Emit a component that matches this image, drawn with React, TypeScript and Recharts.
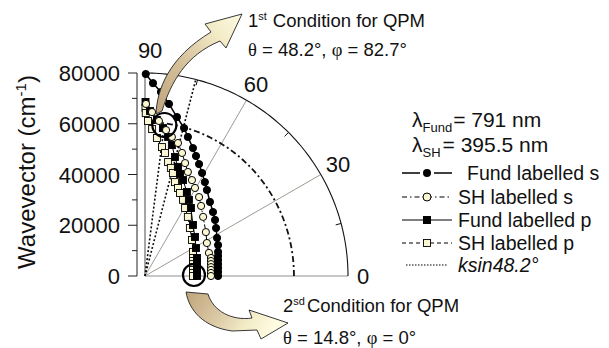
import React from "react";
import { ComposedChart, XAxis, YAxis, Scatter, ReferenceDot } from "recharts";

const FONT = '"Liberation Sans", Arial, sans-serif';
const SERIF = '"Liberation Serif", "Times New Roman", serif';

// wavevector components in cm^-1: [k cos(phi), k sin(phi)]
const FUND_S: [number, number][] = [
  [300, 79600], [3150, 76000], [6300, 72500], [9450, 67800], [12600, 62650], [15400, 58300],
  [16900, 54800], [18900, 50400], [20100, 47300], [21300, 44100], [22500, 40600], [23600, 37000],
  [24400, 33900], [25600, 29200], [26800, 25200], [27600, 22100], [28000, 18900], [28400, 15000],
  [28800, 12200], [28800, 9500], [28800, 7900], [28800, 6300], [28800, 4700], [28800, 3200],
  [28800, 1600], [28800, 0],
];
const SH_S: [number, number][] = [
  [400, 67800], [2760, 64600], [5500, 61100], [8300, 57500], [10600, 54800], [13000, 52400],
  [14600, 48500], [15800, 44500], [16900, 41000], [18500, 37800], [19700, 34700], [21300, 31100],
  [22100, 27600], [22900, 23300], [24000, 17300], [24400, 13000], [25200, 9100], [26000, 7100],
  [26000, 5900], [26000, 4700], [26000, 3500], [26000, 2400], [26000, 1200], [26000, 0],
];
const FUND_P: [number, number][] = [
  [200, 68600], [2000, 65000], [4700, 61500], [7100, 58300], [9100, 54800], [10600, 51600],
  [11800, 46900], [13000, 43000], [13800, 40200], [15000, 37800], [16500, 33100], [17300, 30000],
  [18100, 26800], [18900, 20100], [19700, 15400], [20100, 11000], [20500, 7100], [20500, 5500],
  [20500, 3900], [20500, 2400], [20500, 1200], [20500, 0],
];
const SH_P: [number, number][] = [
  [200, 66200], [300, 64200], [1200, 61100], [2800, 57900], [4700, 54400], [6700, 50800],
  [7900, 48500], [9100, 44900], [10200, 42600], [11000, 40600], [11800, 37000], [13000, 34700],
  [13800, 32700], [15000, 30000], [15800, 26800], [16900, 23300], [17700, 18900], [18500, 14200],
  [18900, 9500], [18900, 7100], [18900, 5900], [18900, 4700], [18900, 3500], [18900, 2400],
  [18900, 1200], [18900, 0],
];

const Y_TICKS = [0, 10000, 20000, 30000, 40000, 50000, 60000, 70000, 80000];
const K_MAX = 80000;
const GRID_ANGLES = [30, 60];
const ARC_TICK_ANGLES = [15, 45, 75];
const ANGLE_LABELS = [
  { deg: 0, r: 86000, text: "0" },
  { deg: 30, r: 87800, text: "30" },
  { deg: 60, r: 87500, text: "60" },
  { deg: 88.7, r: 89100, text: "90" },
];
const ELLIPSE = { a: 58700, b: 60700 };
const DOTTED_RAYS = [
  { deg: 75.5, r: 80000 },
  { deg: 82.7, r: 60000 },
];
const QPM_1 = { deg: 82.7, r: 60000 };
const QPM_2 = { x: 19300, y: 400 };

const AXIS_X = 137;

const rad = (d: number) => (d * Math.PI) / 180;
const pts = (arr: [number, number][]) => arr.map(([x, y]) => ({ x, y }));
const polar = (deg: number, r: number) => ({ x: r * Math.cos(rad(deg)), y: r * Math.sin(rad(deg)) });
const arcPts = (rx: number, ry: number) =>
  Array.from({ length: 91 }, (_, i) => ({ x: rx * Math.cos(rad(i)), y: ry * Math.sin(rad(i)) }));

const none = () => <g />;
const roundMark = (fill: string) => (p: any) => (
  <circle cx={p.cx} cy={p.cy} r={3.6} fill={fill} stroke="#000" strokeWidth={1} />
);
const squareMark = (fill: string) => (p: any) => (
  <rect x={p.cx - 3.5} y={p.cy - 3.5} width={7} height={7} fill={fill} stroke="#000" strokeWidth={0.9} />
);

function YTick(props: any) {
  const { y, payload } = props;
  const major = payload.value % 20000 === 0;
  return (
    <g>
      <line x1={AXIS_X - (major ? 9 : 5)} x2={AXIS_X} y1={y} y2={y} stroke="#222" strokeWidth={1} />
      {major && (
        <text x={AXIS_X - 17} y={y + 8} textAnchor="end" fontSize={22} fontFamily={FONT} fill="#111">
          {payload.value}
        </text>
      )}
    </g>
  );
}

const CREAM = "#fbf7d2";

function Overlay() {
  return (
    <svg width={609} height={348} style={{ position: "absolute", left: 0, top: 0, pointerEvents: "none" }}>
      <defs>
        <linearGradient id="arrowUp" x1="0" y1="1" x2="1" y2="0">
          <stop offset="0" stopColor="#bfa47c" />
          <stop offset="0.45" stopColor="#d8c49f" />
          <stop offset="0.75" stopColor="#f2ebc6" />
          <stop offset="1" stopColor="#fffbe3" />
        </linearGradient>
        <linearGradient id="arrowDown" x1="0" y1="0" x2="1" y2="0.3">
          <stop offset="0" stopColor="#bfa47c" />
          <stop offset="0.4" stopColor="#d9c6a2" />
          <stop offset="0.75" stopColor="#f4edc9" />
          <stop offset="1" stopColor="#fffbe3" />
        </linearGradient>
      </defs>

      {/* y axis title */}
      <g transform="translate(35,172) rotate(-90)">
        <text textAnchor="middle" fontSize={24} fontFamily={FONT} fill="#111">
          Wavevector (cm<tspan dy={-9} fontSize={15}>-1</tspan>
          <tspan dy={9}>)</tspan>
        </text>
      </g>

      {/* QPM arrows */}
      <path
        d="M 156 114 C 157 90, 168 58, 211 32 L 205 24 L 242 14 L 226 48 L 220 41 C 186 55, 171 82, 162 111 Z"
        fill="url(#arrowUp)"
        stroke="#222"
        strokeWidth={0.9}
      />
      <path
        d="M 186 292 C 189 310, 203 327, 232 331 L 257 330 L 261 339 L 288 323 L 249 310 L 252 318 C 232 321, 213 311, 208 294 Z"
        fill="url(#arrowDown)"
        stroke="#222"
        strokeWidth={0.9}
      />

      <g fontFamily={FONT} fill="#111">
        <text x={248} y={27} fontSize={18.5}>
          1<tspan dy={-7} fontSize={11}>st</tspan>
          <tspan dy={7} dx={6}>Condition for QPM</tspan>
        </text>
        <text x={248} y={56} fontSize={18.5}>
          <tspan fontFamily={SERIF}>θ</tspan> = 48.2°, <tspan fontFamily={SERIF}>φ</tspan> = 82.7°
        </text>
        <text x={283} y={312} fontSize={18.5}>
          2<tspan dy={-7} fontSize={11}>sd</tspan>
          <tspan dy={7} dx={2}>Condition for QPM</tspan>
        </text>
        <text x={283} y={344} fontSize={18.5}>
          <tspan fontFamily={SERIF}>θ</tspan> = 14.8°, <tspan fontFamily={SERIF}>φ</tspan> = 0°
        </text>

        {/* wavelengths */}
        <text x={412} y={127} fontSize={21}>
          λ<tspan dy={5} fontSize={13}>Fund</tspan>
          <tspan dx={1} dy={-5}>= 791 nm</tspan>
        </text>
        <text x={412} y={152} fontSize={21}>
          λ<tspan dy={5} fontSize={13}>SH</tspan>
          <tspan dx={2} dy={-5}>= 395.5 nm</tspan>
        </text>
      </g>

      {/* key */}
      <g fontFamily={FONT} fill="#111" fontSize={19.5}>
        <line x1={402} x2={420} y1={173} y2={173} stroke="#000" strokeWidth={1.5} />
        <line x1={434} x2={452} y1={173} y2={173} stroke="#000" strokeWidth={1.5} />
        <circle cx={427} cy={173} r={4} fill="#000" />
        <text x={467} y={180}>Fund labelled s</text>

        <line x1={402} x2={452} y1={197} y2={197} stroke="#000" strokeWidth={1.2} strokeDasharray="5 3 1.5 3" />
        <circle cx={427} cy={197} r={4} fill={CREAM} stroke="#000" strokeWidth={1} />
        <text x={458} y={204}>SH labelled s</text>

        <line x1={402} x2={452} y1={220} y2={220} stroke="#000" strokeWidth={1.2} />
        <rect x={423} y={216} width={8} height={8} fill="#000" />
        <text x={458} y={227}>Fund labelled p</text>

        <line x1={402} x2={452} y1={243} y2={243} stroke="#000" strokeWidth={1.2} strokeDasharray="4 3" />
        <rect x={423.5} y={239.5} width={7} height={7} fill={CREAM} stroke="#000" strokeWidth={0.9} />
        <text x={458} y={250}>SH labelled p</text>

        <line x1={406} x2={448} y1={265} y2={265} stroke="#000" strokeWidth={1.2} strokeDasharray="1.5 1.5" />
        <text x={458} y={272} fontStyle="italic">ksin48.2°</text>
      </g>
    </svg>
  );
}

export default function App() {
  return (
    <div style={{ position: "fixed", left: 0, top: 0, width: 609, height: 348, background: "#fff" }}>
      <ComposedChart width={609} height={348} margin={{ top: 73, right: 261, bottom: 72, left: 0 }}>
        <XAxis type="number" dataKey="x" domain={[-3150, 80000]} hide />
        <YAxis
          type="number"
          dataKey="y"
          domain={[0, 80000]}
          ticks={Y_TICKS}
          interval={0}
          width={137}
          tickLine={false}
          axisLine={{ stroke: "#222", strokeWidth: 1 }}
          tick={YTick}
        />

        {/* polar grid */}
        <Scatter data={[polar(0, 0), polar(0, K_MAX)]} shape={none} line={{ stroke: "#8f8f8f", strokeWidth: 1.2 }} isAnimationActive={false} />
        <Scatter data={[polar(90, 0), polar(90, K_MAX)]} shape={none} line={{ stroke: "#a5a5a5", strokeWidth: 2 }} isAnimationActive={false} />
        {GRID_ANGLES.map((d) => (
          <Scatter key={d} data={[polar(d, 0), polar(d, K_MAX)]} shape={none} line={{ stroke: "#a09a92", strokeWidth: 1 }} isAnimationActive={false} />
        ))}
        <Scatter data={arcPts(K_MAX, K_MAX)} shape={none} line={{ stroke: "#111", strokeWidth: 1.1 }} isAnimationActive={false} />
        {ARC_TICK_ANGLES.map((d) => (
          <Scatter key={d} data={[polar(d, K_MAX), polar(d, K_MAX - 2200)]} shape={none} line={{ stroke: "#111", strokeWidth: 1 }} isAnimationActive={false} />
        ))}

        {/* index surface and phase-matching directions */}
        <Scatter data={arcPts(ELLIPSE.a, ELLIPSE.b)} shape={none} line={{ stroke: "#111", strokeWidth: 1.8, strokeDasharray: "6 3 2 3" }} isAnimationActive={false} />
        {DOTTED_RAYS.map((r) => (
          <Scatter key={r.deg} data={[polar(r.deg, 0), polar(r.deg, r.r)]} shape={none} line={{ stroke: "#111", strokeWidth: 1.6, strokeDasharray: "2 2" }} isAnimationActive={false} />
        ))}

        {/* dispersion curves */}
        <Scatter data={pts(SH_P)} shape={squareMark(CREAM)} line={{ stroke: "#000", strokeWidth: 1, strokeDasharray: "4 3" }} isAnimationActive={false} />
        <Scatter data={pts(FUND_P)} shape={squareMark("#000")} line={{ stroke: "#000", strokeWidth: 1 }} isAnimationActive={false} />
        <Scatter data={pts(SH_S)} shape={roundMark(CREAM)} line={{ stroke: "#000", strokeWidth: 1, strokeDasharray: "5 2 1.5 2" }} isAnimationActive={false} />
        <Scatter data={pts(FUND_S)} shape={roundMark("#000")} line={{ stroke: "#000", strokeWidth: 1.5 }} isAnimationActive={false} />

        {/* QPM points */}
        <ReferenceDot {...polar(QPM_1.deg, QPM_1.r)} r={12} fill="none" stroke="#000" strokeWidth={2.2} ifOverflow="visible" />
        <ReferenceDot x={QPM_2.x} y={QPM_2.y} r={11} fill="none" stroke="#000" strokeWidth={2.2} ifOverflow="visible" />

        {ANGLE_LABELS.map((l) => (
          <ReferenceDot
            key={l.text}
            {...polar(l.deg, l.r)}
            r={0}
            fill="none"
            stroke="none"
            ifOverflow="visible"
            label={{ value: l.text, position: "center", fontSize: 22, fill: "#111", fontFamily: FONT }}
          />
        ))}
      </ComposedChart>
      <Overlay />
    </div>
  );
}
